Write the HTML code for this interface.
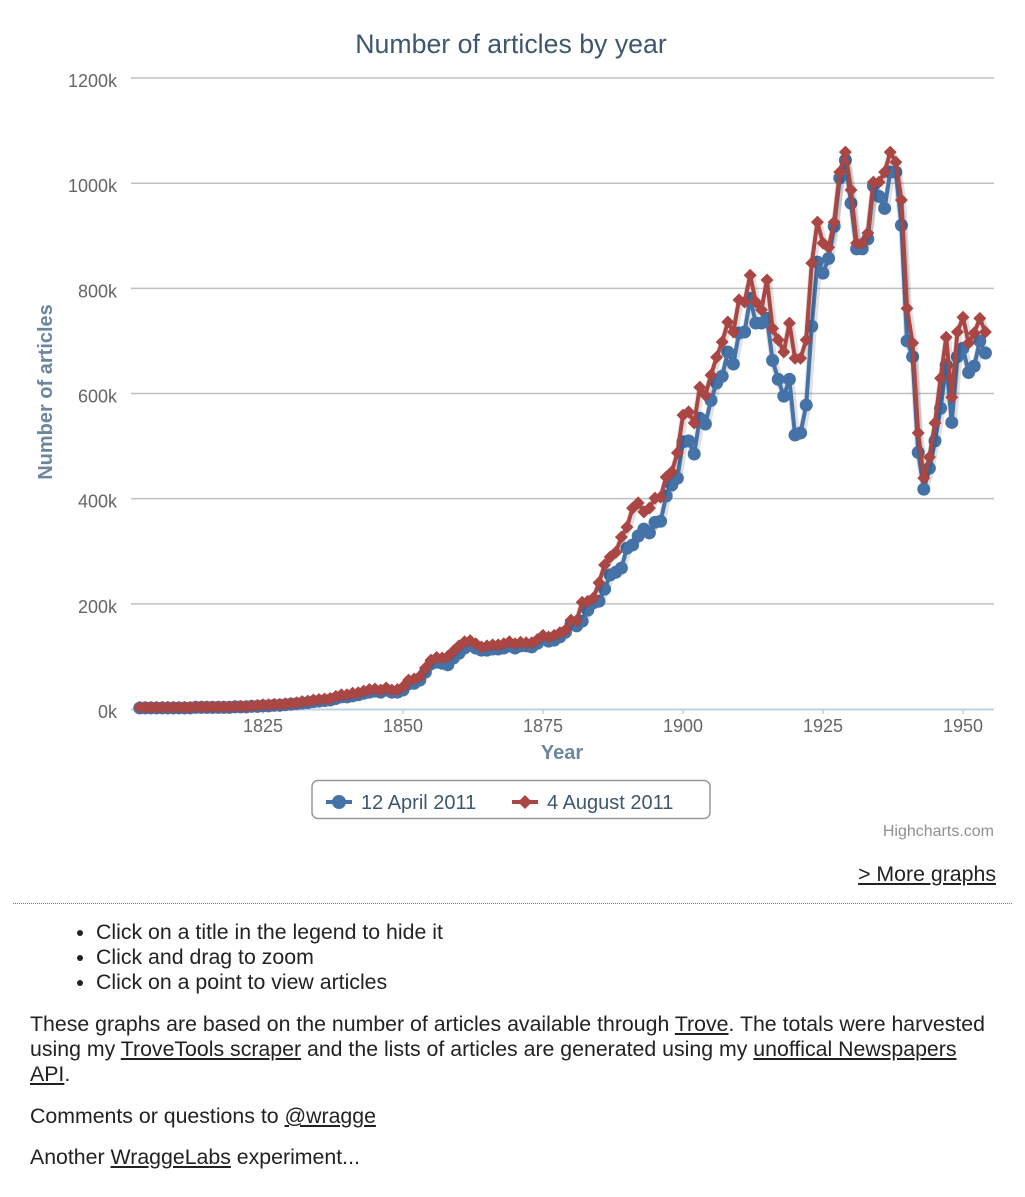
<!DOCTYPE html>
<html><head><meta charset="utf-8">
<style>
body{margin:0;background:#fff;font-family:"Liberation Sans",sans-serif;width:1025px;height:1197px;overflow:hidden;position:relative}
#chart{position:absolute;left:0;top:0}
.more{position:absolute;right:29px;top:862px;font-size:21.3px;color:#222;text-decoration:underline}
hr{position:absolute;left:13px;top:903px;width:999px;margin:0;border:0;border-top:1px dotted #777}
ul{position:absolute;left:56px;top:920px;margin:0;padding-left:40px;font-size:21.3px;line-height:25px;color:#222}
.p{position:absolute;left:30px;width:970px;font-size:21.3px;line-height:25px;color:#222;margin:0}
a{color:#222;text-decoration:underline}
</style></head><body>
<svg id="chart" width="1025" height="850"></svg>
<a class="more">&gt; More graphs</a>
<hr>
<ul>
<li>Click on a title in the legend to hide it</li>
<li>Click and drag to zoom</li>
<li>Click on a point to view articles</li>
</ul>
<p class="p" style="top:1012px">These graphs are based on the number of articles available through <a>Trove</a>. The totals were harvested using my <a>TroveTools scraper</a> and the lists of articles are generated using my <a>unoffical Newspapers API</a>.</p>
<p class="p" style="top:1104px">Comments or questions to <a>@wragge</a></p>
<p class="p" style="top:1145px">Another <a>WraggeLabs</a> experiment...</p>
<script>
const startYear = 1803;
const blueValues = [2,2,2,2,2,2,2,2,2,2,3,3,3,3,3,3,3,4,4,4,5,5,6,6,7,7,8,9,10,11,12,14,15,16,17,20,23,23,25,27,30,32,34,32,36,32,32,36,48,49,55,70,86,89,87,84,97,106,116,122,116,112,112,114,114,116,120,116,120,120,118,125,135,129,131,137,146,162,158,167,188,202,205,228,255,260,268,306,312,329,342,335,355,357,405,426,439,508,510,485,553,542,587,620,633,679,656,715,717,781,734,734,743,663,627,595,627,521,525,578,728,850,829,857,918,1010,1044,962,875,875,894,995,975,952,1021,1021,920,700,670,488,418,458,510,572,654,545,670,686,640,652,700,677];
const redValues = [3,3,3,3,3,3,3,3,3,3,4,4,4,4,4,4,4,5,5,5,6,7,8,8,9,9,10,11,12,14,15,17,18,19,20,24,27,27,30,31,34,37,38,36,40,36,37,42,55,57,62,78,93,98,97,100,110,120,128,130,124,118,120,122,122,124,128,124,127,126,126,132,140,137,140,145,150,169,168,203,205,211,240,274,289,298,327,346,382,392,375,382,401,403,441,451,487,559,565,544,612,597,635,669,698,736,717,778,774,825,774,759,816,724,702,679,734,667,667,702,848,926,886,878,926,1021,1059,987,886,886,905,1002,1002,1021,1059,1040,968,762,696,525,439,479,544,629,707,593,717,745,696,715,743,717];
const yTicks = [0,200,400,600,800,1000,1200];
const xTicks = [1825,1850,1875,1900,1925,1950];
const NS="http://www.w3.org/2000/svg";
const svg=document.getElementById('chart');
const X=y=>123+5.6*(y-1800);
const Y=v=>709-0.5258*v;
function el(t,a,p){const e=document.createElementNS(NS,t);for(const k in a)e.setAttribute(k,a[k]);(p||svg).appendChild(e);return e;}
const title=el('text',{x:511,y:53,'text-anchor':'middle','font-size':26.7,fill:'#3E576F'});title.textContent='Number of articles by year';


yTicks.forEach(t=>{
  if(t>0){const g=el('line',{x1:131,x2:994,y1:Y(t),y2:Y(t),stroke:'#C0C0C0','stroke-width':1.5});
  
  }
  const l=el('text',{x:117,y:Y(t)+9,'text-anchor':'end','font-size':18,fill:'#666'});l.textContent=t+'k';
  
  
});
const ax=el('line',{x1:131,x2:994,y1:709.5,y2:709.5,stroke:'#C0D0E0','stroke-width':2});


xTicks.forEach(t=>{
  const tk=el('line',{x1:X(t),x2:X(t),y1:709,y2:714,stroke:'#C0D0E0','stroke-width':1.5});
  
  
  const l=el('text',{x:X(t),y:732,'text-anchor':'middle','font-size':18,fill:'#666'});l.textContent=t;
  
  
});
const xt=el('text',{x:562,y:759,'text-anchor':'middle','font-size':20,'font-weight':'bold',fill:'#6D869F'});xt.textContent='Year';


const yt=el('text',{x:0,y:0,transform:'translate(52,392) rotate(-90)','text-anchor':'middle','font-size':20,'font-weight':'bold',fill:'#6D869F'});yt.textContent='Number of articles';


function series(vals,color,shape,name){
  const g=el('g',{});
  
  
  const pts=vals.map((v,i)=>X(startYear+i).toFixed(1)+','+Y(v).toFixed(1)).join(' ');
  el('polyline',{points:pts,fill:'none',stroke:'rgba(0,0,0,0.12)','stroke-width':8,transform:'translate(1,1)','stroke-linejoin':'round'},g);
  el('polyline',{points:pts,fill:'none',stroke:color,'stroke-width':4,'stroke-linejoin':'round'},g);
  vals.forEach((v,i)=>{
    const x=X(startYear+i),y=Y(v);let m;
    if(shape==='circle') m=el('circle',{cx:x,cy:y,r:6.5,fill:color},g);
    else m=el('path',{d:`M${x} ${y-6.5}L${x+6.5} ${y}L${x} ${y+6.5}L${x-6.5} ${y}Z`,fill:color},g);
    
    
  });
}
series(blueValues,'#4572A7','circle','series-12-april-2011');
series(redValues,'#AA4643','diamond','series-4-august-2011');
const lg=el('g',{});


el('rect',{x:312,y:780.5,width:398,height:38,rx:6,fill:'#fff',stroke:'#999','stroke-width':1.5},lg);
const l1=el('g',{},lg);


el('line',{x1:326,x2:352,y1:802,y2:802,stroke:'#4572A7','stroke-width':4},l1);
el('circle',{cx:339,cy:802,r:7,fill:'#4572A7'},l1);
const t1=el('text',{x:361,y:809,'font-size':20,fill:'#3E576F'},l1);t1.textContent='12 April 2011';
const l2=el('g',{},lg);


el('line',{x1:512,x2:538,y1:802,y2:802,stroke:'#AA4643','stroke-width':4},l2);
el('path',{d:'M525 795L532 802L525 809L518 802Z',fill:'#AA4643'},l2);
const t2=el('text',{x:547,y:809,'font-size':20,fill:'#3E576F'},l2);t2.textContent='4 August 2011';
const cr=el('text',{x:994,y:836,'text-anchor':'end','font-size':16,fill:'#909090'});cr.textContent='Highcharts.com';


</script>
</body></html>
